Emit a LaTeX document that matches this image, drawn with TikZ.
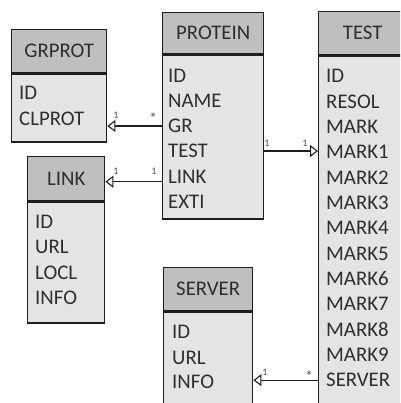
\documentclass[tikz,border=0pt]{standalone}
\usepackage{fontspec}
\setmainfont{Carlito}
\usetikzlibrary{arrows.meta}
\definecolor{headfill}{HTML}{BFBFBF}
\definecolor{bodyfill}{HTML}{E4E4E4}
\definecolor{edge}{HTML}{1E1E1E}
\definecolor{ink}{HTML}{2E2E2E}
\tikzset{
  head/.style={draw=edge, line width=1.4pt, fill=headfill, anchor=north west,
    inner sep=0pt, text=ink, font=\fontsize{20.8}{25}\selectfont},
  body/.style={draw=edge, line width=1.4pt, fill=bodyfill, anchor=north west, inner sep=0pt},
  attr/.style={anchor=west, inner sep=0pt, text=ink, font=\fontsize{20.8}{25}\selectfont},
  mult/.style={inner sep=0pt, text=ink!85, font=\fontsize{10}{11}\selectfont},
  many/.style={inner sep=0pt, text=ink!85, font=\fontsize{15}{16}\selectfont},
  assoc/.style={draw=edge, line width=1.2pt,
    -{Triangle[open, length=8pt, width=12pt, fill=white, line width=1.1pt]}},
}
\begin{document}
\begin{tikzpicture}[x=1pt, y=-1pt]
\useasboundingbox (0,0) rectangle (400,403);
\begin{scope}
\clip (0,0) rectangle (400,403);
% GRPROT
\node[head, minimum width=95pt, minimum height=43pt] (grprot) at (11,29) {GRPROT};
\node[body, minimum width=95pt, minimum height=68pt] (grprot-b) at (grprot.south west) {};
\node[attr] (g-id) at (19,93) {ID};
\node[attr] (g-clprot) at (19,119) {CLPROT};
% PROTEIN
\node[head, minimum width=101pt, minimum height=41pt] (protein) at (162,12) {PROTEIN};
\node[body, minimum width=101pt, minimum height=164pt] (protein-b) at (protein.south west) {};
\node[attr] (p-id) at (168,76) {ID};
\node[attr] (p-name) at (168,101) {NAME};
\node[attr] (p-gr) at (168,126) {GR};
\node[attr] (p-test) at (168,151) {TEST};
\node[attr] (p-link) at (168,177) {LINK};
\node[attr] (p-exti) at (168,202) {EXTI};
% TEST
\node[head, minimum width=88pt, minimum height=43pt] (test) at (318,11) {TEST};
\node[body, minimum width=88pt, minimum height=380pt] (test-b) at (test.south west) {};
\foreach \t [count=\i from 0] in {ID,RESOL,MARK,MARK1,MARK2,MARK3,MARK4,MARK5,MARK6,MARK7,MARK8,MARK9,SERVER}
  \node[attr] (t-\i) at (326,{76+25.35*\i}) {\t};
% LINK
\node[head, minimum width=77pt, minimum height=44pt] (link) at (27,156) {LINK};
\node[body, minimum width=77pt, minimum height=121pt] (link-b) at (link.south west) {};
\node[attr] (l-id) at (35,222) {ID};
\node[attr] (l-url) at (35,247) {URL};
\node[attr] (l-locl) at (35,273) {LOCL};
\node[attr] (l-info) at (35,298) {INFO};
% SERVER
\node[head, minimum width=89pt, minimum height=43pt] (server) at (163,267) {SERVER};
\node[body, minimum width=89pt, minimum height=120pt] (server-b) at (server.south west) {};
\node[attr] (s-id) at (172,332) {ID};
\node[attr] (s-url) at (172,358) {URL};
\node[attr] (s-info) at (172,382) {INFO};
% associations
\draw[assoc] (p-gr.west -| protein-b.west) -- (p-gr.west -| grprot-b.east);
\draw[assoc] ([yshift=-3pt]link.east -| protein-b.west) -- ([yshift=-3pt]link.east);
\draw[assoc] (p-test.west -| protein-b.east) -- (p-test.west -| test-b.west);
\draw[assoc] (t-12.west -| test-b.west) -- (t-12.west -| server-b.east);
% multiplicities
\node[many] (m-gr-a) at (153,118) {*};
\node[mult] (m-gr-b) at (116,115) {1};
\node[mult] (m-ln-a) at (154,171) {1};
\node[mult] (m-ln-b) at (116,171) {1};
\node[mult] (m-ts-a) at (267,143) {1};
\node[mult] (m-ts-b) at (305,143) {1};
\node[many] (m-sv-a) at (309,376) {*};
\node[mult] (m-sv-b) at (265,372) {1};
\end{scope}
\end{tikzpicture}
\end{document}
